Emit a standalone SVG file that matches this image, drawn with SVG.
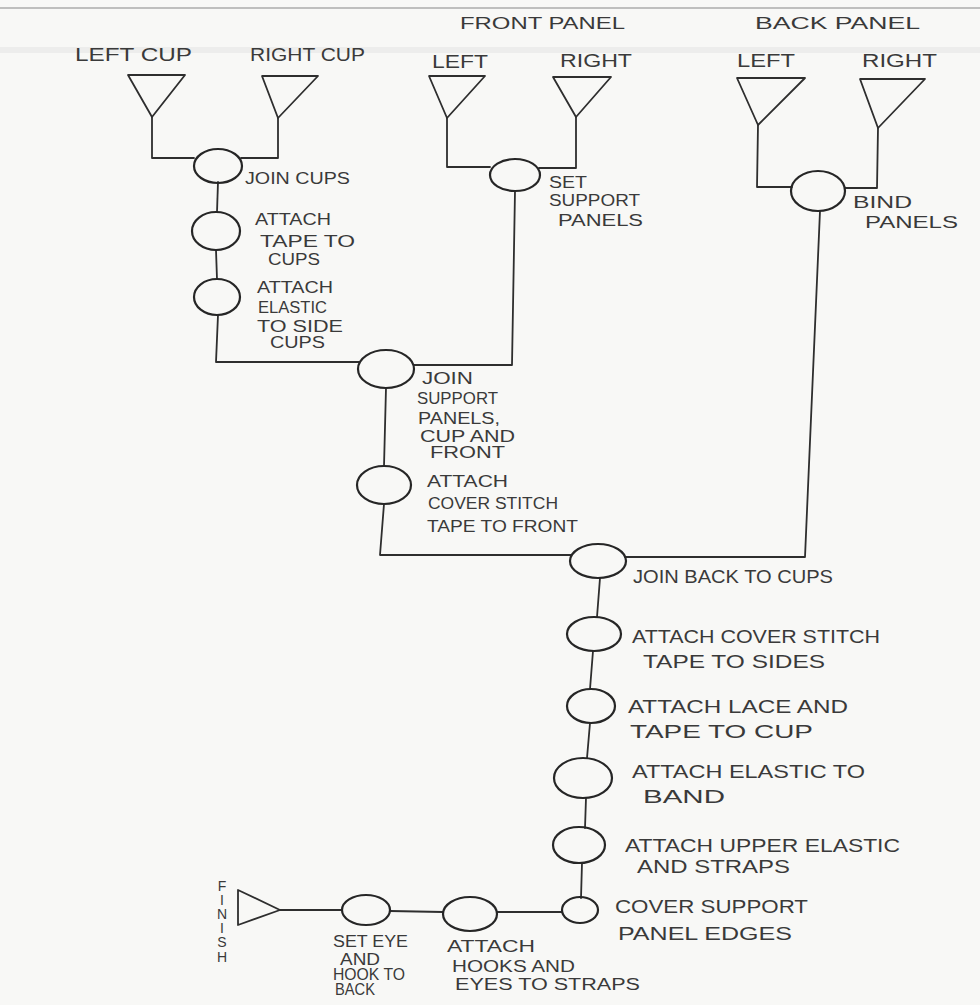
<svg xmlns="http://www.w3.org/2000/svg" width="980" height="1005" viewBox="0 0 980 1005">
<style>
.bg{fill:#f8f8f6}
.ln{fill:none;stroke:#2e2e2e;stroke-width:1.8;stroke-linecap:round;stroke-linejoin:round}
.nd{fill:none;stroke:#262626;stroke-width:2.2}
.tri{fill:none;stroke:#2e2e2e;stroke-width:1.8;stroke-linejoin:round}
text{font-family:"Liberation Sans",Arial,sans-serif;fill:#3a3a3a;font-weight:normal}
.t{font-size:19px}
.s{font-size:16px}
.f{font-size:14px}
</style>
<rect class="bg" x="0" y="0" width="980" height="1005"/>
<line x1="0" y1="8" x2="980" y2="8" stroke="#9a9a9a" stroke-width="2" opacity="0.6"/>
<line x1="0" y1="50" x2="980" y2="50" stroke="#d6d6d6" stroke-width="6" opacity="0.3"/>

<g id="connectors">
  <polyline class="ln" points="152,117 152,158 194,158"/>
  <polyline class="ln" points="278,118 278,158 241,158"/>
  <line class="ln" x1="218" y1="182" x2="217" y2="212"/>
  <line class="ln" x1="216" y1="250" x2="217" y2="279"/>
  <polyline class="ln" points="218,315 216,362 359,362"/>
  <polyline class="ln" points="447,118 447,167 490,167"/>
  <polyline class="ln" points="576,117 576,168 539,168"/>
  <polyline class="ln" points="515,191 512,365 414,365"/>
  <polyline class="ln" points="758,125 757,187 792,187"/>
  <polyline class="ln" points="878,128 877,188 845,188"/>
  <polyline class="ln" points="820,211 805,557 625,557"/>
  <line class="ln" x1="386" y1="388" x2="384" y2="466"/>
  <polyline class="ln" points="384,504 380,555 571,555"/>
  <line class="ln" x1="600" y1="578" x2="597" y2="617"/>
  <line class="ln" x1="593" y1="651" x2="590" y2="689"/>
  <line class="ln" x1="590" y1="723" x2="587" y2="758"/>
  <line class="ln" x1="586" y1="798" x2="585" y2="828"/>
  <line class="ln" x1="582" y1="863" x2="581" y2="898"/>
  <line class="ln" x1="562" y1="912" x2="497" y2="912"/>
  <line class="ln" x1="443" y1="912" x2="390" y2="911"/>
  <line class="ln" x1="342" y1="910" x2="280" y2="910"/>
</g>

<g id="left-cup">
  <polygon class="tri" points="128,75 185,75 152,117"/>
  <text class="t" x="75" y="61" textLength="117" lengthAdjust="spacingAndGlyphs">LEFT CUP</text>
</g>
<g id="right-cup">
  <polygon class="tri" points="262,76 318,76 278,118"/>
  <text class="t" x="250" y="61" textLength="115" lengthAdjust="spacingAndGlyphs">RIGHT CUP</text>
</g>
<g id="front-panel-title">
  <text class="s" x="460" y="29" textLength="165" lengthAdjust="spacingAndGlyphs">FRONT PANEL</text>
</g>
<g id="front-left">
  <polygon class="tri" points="429,76 485,76 447,118"/>
  <text class="t" x="432" y="68" textLength="56" lengthAdjust="spacingAndGlyphs">LEFT</text>
</g>
<g id="front-right">
  <polygon class="tri" points="553,77 611,77 576,117"/>
  <text class="t" x="560" y="67" textLength="72" lengthAdjust="spacingAndGlyphs">RIGHT</text>
</g>
<g id="back-panel-title">
  <text class="s" x="755" y="29" textLength="165" lengthAdjust="spacingAndGlyphs">BACK PANEL</text>
</g>
<g id="back-left">
  <polygon class="tri" points="737,78 805,78 758,125"/>
  <text class="t" x="737" y="67" textLength="58" lengthAdjust="spacingAndGlyphs">LEFT</text>
</g>
<g id="back-right">
  <polygon class="tri" points="860,79 925,79 878,128"/>
  <text class="t" x="862" y="67" textLength="75" lengthAdjust="spacingAndGlyphs">RIGHT</text>
</g>

<g id="join-cups">
  <ellipse class="nd" cx="218" cy="166" rx="24" ry="17"/>
  <text class="s" x="245" y="184" textLength="105" lengthAdjust="spacingAndGlyphs">JOIN CUPS</text>
</g>
<g id="attach-tape-cups">
  <ellipse class="nd" cx="216" cy="231" rx="24" ry="19"/>
  <text class="s" x="255" y="225" textLength="76" lengthAdjust="spacingAndGlyphs">ATTACH</text>
  <text class="s" x="260" y="247" textLength="95" lengthAdjust="spacingAndGlyphs">TAPE TO</text>
  <text class="s" x="268" y="265" textLength="52" lengthAdjust="spacingAndGlyphs">CUPS</text>
</g>
<g id="attach-elastic-side">
  <ellipse class="nd" cx="217" cy="297" rx="23" ry="18"/>
  <text class="s" x="257" y="293" textLength="76" lengthAdjust="spacingAndGlyphs">ATTACH</text>
  <text class="s" x="258" y="313" textLength="69" lengthAdjust="spacingAndGlyphs">ELASTIC</text>
  <text class="s" x="257" y="332" textLength="86" lengthAdjust="spacingAndGlyphs">TO SIDE</text>
  <text class="s" x="270" y="348" textLength="55" lengthAdjust="spacingAndGlyphs">CUPS</text>
</g>
<g id="set-support-panels">
  <ellipse class="nd" cx="515" cy="175" rx="25" ry="16"/>
  <text class="s" x="549" y="188" textLength="38" lengthAdjust="spacingAndGlyphs">SET</text>
  <text class="s" x="549" y="206" textLength="91" lengthAdjust="spacingAndGlyphs">SUPPORT</text>
  <text class="s" x="558" y="226" textLength="85" lengthAdjust="spacingAndGlyphs">PANELS</text>
</g>
<g id="bind-panels">
  <ellipse class="nd" cx="818" cy="191" rx="27" ry="20"/>
  <text class="s" x="853" y="208" textLength="59" lengthAdjust="spacingAndGlyphs">BIND</text>
  <text class="s" x="865" y="228" textLength="93" lengthAdjust="spacingAndGlyphs">PANELS</text>
</g>
<g id="join-support-panels">
  <ellipse class="nd" cx="386" cy="369" rx="28" ry="19"/>
  <text class="s" x="422" y="384" textLength="51" lengthAdjust="spacingAndGlyphs">JOIN</text>
  <text class="s" x="417" y="404" textLength="81" lengthAdjust="spacingAndGlyphs">SUPPORT</text>
  <text class="s" x="418" y="424" textLength="82" lengthAdjust="spacingAndGlyphs">PANELS,</text>
  <text class="s" x="420" y="442" textLength="95" lengthAdjust="spacingAndGlyphs">CUP AND</text>
  <text class="s" x="430" y="458" textLength="75" lengthAdjust="spacingAndGlyphs">FRONT</text>
</g>
<g id="attach-cover-stitch-front">
  <ellipse class="nd" cx="384" cy="485" rx="27" ry="19"/>
  <text class="s" x="427" y="487" textLength="81" lengthAdjust="spacingAndGlyphs">ATTACH</text>
  <text class="s" x="428" y="509" textLength="130" lengthAdjust="spacingAndGlyphs">COVER STITCH</text>
  <text class="s" x="427" y="532" textLength="151" lengthAdjust="spacingAndGlyphs">TAPE TO FRONT</text>
</g>
<g id="join-back-to-cups">
  <ellipse class="nd" cx="598" cy="561" rx="28" ry="17"/>
  <text class="t" x="633" y="583" textLength="200" lengthAdjust="spacingAndGlyphs">JOIN BACK TO CUPS</text>
</g>
<g id="attach-cover-stitch-sides">
  <ellipse class="nd" cx="594" cy="634" rx="27" ry="17"/>
  <text class="t" x="632" y="643" textLength="248" lengthAdjust="spacingAndGlyphs">ATTACH COVER STITCH</text>
  <text class="t" x="643" y="668" textLength="182" lengthAdjust="spacingAndGlyphs">TAPE TO SIDES</text>
</g>
<g id="attach-lace-tape">
  <ellipse class="nd" cx="591" cy="706" rx="24" ry="17"/>
  <text class="t" x="628" y="713" textLength="220" lengthAdjust="spacingAndGlyphs">ATTACH LACE AND</text>
  <text class="t" x="630" y="738" textLength="183" lengthAdjust="spacingAndGlyphs">TAPE TO CUP</text>
</g>
<g id="attach-elastic-band">
  <ellipse class="nd" cx="583" cy="778" rx="29" ry="20"/>
  <text class="t" x="632" y="778" textLength="233" lengthAdjust="spacingAndGlyphs">ATTACH ELASTIC TO</text>
  <text class="t" x="643" y="803" textLength="82" lengthAdjust="spacingAndGlyphs">BAND</text>
</g>
<g id="attach-upper-elastic">
  <ellipse class="nd" cx="579" cy="845" rx="26" ry="18"/>
  <text class="t" x="625" y="852" textLength="275" lengthAdjust="spacingAndGlyphs">ATTACH UPPER ELASTIC</text>
  <text class="t" x="637" y="873" textLength="153" lengthAdjust="spacingAndGlyphs">AND STRAPS</text>
</g>
<g id="cover-support-edges">
  <ellipse class="nd" cx="580" cy="910" rx="18" ry="13"/>
  <text class="t" x="615" y="913" textLength="193" lengthAdjust="spacingAndGlyphs">COVER SUPPORT</text>
  <text class="t" x="618" y="940" textLength="174" lengthAdjust="spacingAndGlyphs">PANEL EDGES</text>
</g>
<g id="attach-hooks-eyes">
  <ellipse class="nd" cx="470" cy="914" rx="27" ry="17"/>
  <text class="s" x="447" y="952" textLength="88" lengthAdjust="spacingAndGlyphs">ATTACH</text>
  <text class="s" x="452" y="972" textLength="123" lengthAdjust="spacingAndGlyphs">HOOKS AND</text>
  <text class="s" x="455" y="990" textLength="185" lengthAdjust="spacingAndGlyphs">EYES TO STRAPS</text>
</g>
<g id="set-eye-hook">
  <ellipse class="nd" cx="366" cy="910" rx="24" ry="15"/>
  <text class="s" x="333" y="947" textLength="75" lengthAdjust="spacingAndGlyphs">SET EYE</text>
  <text class="s" x="340" y="965" textLength="40" lengthAdjust="spacingAndGlyphs">AND</text>
  <text class="s" x="333" y="980" textLength="72" lengthAdjust="spacingAndGlyphs">HOOK TO</text>
  <text class="s" x="335" y="995" textLength="40" lengthAdjust="spacingAndGlyphs">BACK</text>
</g>
<g id="finish">
  <polygon class="tri" points="238,890 238,925 280,910"/>
  <text class="f" text-anchor="middle"><tspan x="222" y="891">F</tspan><tspan x="222" y="905">I</tspan><tspan x="222" y="919">N</tspan><tspan x="222" y="933">I</tspan><tspan x="222" y="947">S</tspan><tspan x="222" y="962">H</tspan></text>
</g>
</svg>
